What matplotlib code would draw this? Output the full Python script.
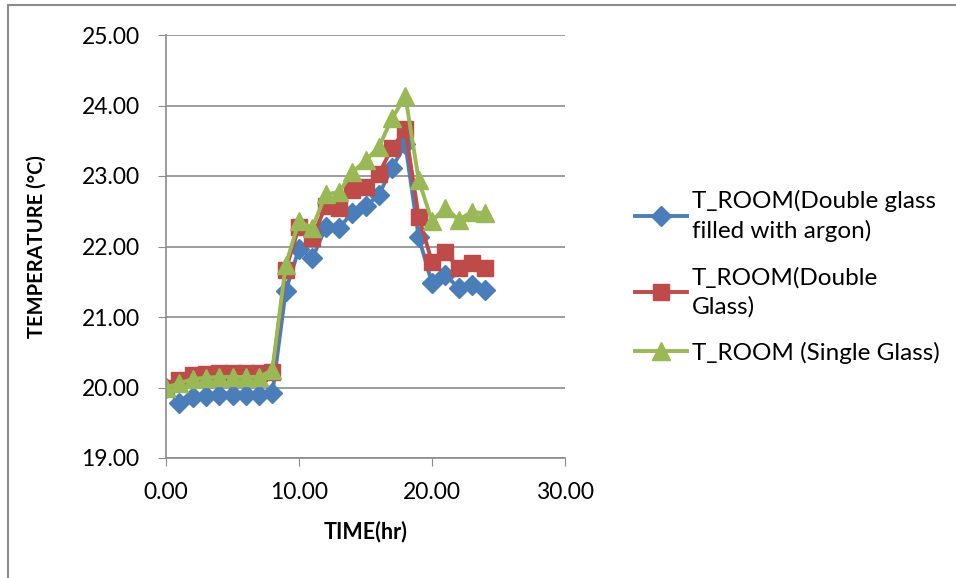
import numpy as np
from matplotlib import pyplot as plt
from matplotlib.patches import Rectangle

plt.rcParams['font.family'] = ['Lato', 'DejaVu Sans']

# time in hours
hours = list(range(25))

# room temperature, double glass filled with argon
t_argon = [20.00, 19.78, 19.86, 19.88, 19.90, 19.90, 19.90, 19.90, 19.92,
           21.37, 21.97, 21.83, 22.27, 22.26, 22.48, 22.57, 22.73, 23.12,
           23.45, 22.13, 21.48, 21.60, 21.41, 21.45, 21.38]

# room temperature, double glass
t_double = [20.00, 20.10, 20.18, 20.19, 20.20, 20.20, 20.20, 20.20, 20.22,
            21.67, 22.28, 22.12, 22.57, 22.55, 22.80, 22.85, 23.03, 23.40,
            23.66, 22.42, 21.78, 21.92, 21.69, 21.76, 21.69]

# room temperature, single glass
t_single = [20.00, 20.06, 20.12, 20.14, 20.15, 20.15, 20.15, 20.15, 20.25,
            21.74, 22.36, 22.26, 22.74, 22.77, 23.05, 23.22, 23.41, 23.82,
            24.13, 22.94, 22.36, 22.55, 22.38, 22.49, 22.47]

labels = ['T_ROOM(Double glass\nfilled with argon)',
          'T_ROOM(Double\nGlass)',
          'T_ROOM (Single Glass)']

fig = plt.figure(figsize=(9.56, 5.78), dpi=100)
ax = fig.add_axes([166 / 956, 1 - 458 / 578, (565 - 166) / 956, (458 - 35) / 578])

ax.plot(hours, t_argon, color='#4A7EBB', lw=2.8, marker='D', ms=10.5, label=labels[0])
ax.plot(hours, t_double, color='#BE4B48', lw=2.8, marker='s', ms=11.5, label=labels[1])
ax.plot(hours, t_single, color='#98B954', lw=2.8, marker='^', ms=13.5, label=labels[2])

ax.set_xlim(0, 30)
ax.set_ylim(19, 25)
ax.set_xticks(np.arange(0, 31, 10))
ax.set_yticks(np.arange(19, 25.1, 1))
ax.xaxis.set_major_formatter(lambda v, p: '%.2f' % v)
ax.yaxis.set_major_formatter(lambda v, p: '%.2f' % v)
ax.grid(axis='y', color='#8C8C8C', lw=1.2)
ax.set_axisbelow(True)
for s in ['top', 'right']:
    ax.spines[s].set_visible(False)
for s in ['left', 'bottom']:
    ax.spines[s].set_color('#8C8C8C')
    ax.spines[s].set_linewidth(1.2)
ax.tick_params(direction='out', length=6, color='#8C8C8C', labelsize=16.5)
ax.tick_params(axis='x', pad=11)
ax.tick_params(axis='y', pad=13)

ax.set_xlabel('TIME(hr)', fontsize=15.5, fontweight='bold', labelpad=13)
ax.set_ylabel('TEMPERATURE (°C)', fontsize=14.5, fontweight='bold', labelpad=25)

fig.legend(loc='center left', bbox_to_anchor=(635 / 956, 1 - 277 / 578),
           bbox_transform=fig.transFigure, frameon=False, borderpad=0,
           borderaxespad=0, handlelength=2.15, handletextpad=0.2,
           labelspacing=1.0, prop={'size': 17.5})
for t in fig.legends[0].get_texts():
    t.set_linespacing(1.45)

# outer chart border
fig.patches.append(Rectangle((8 / 956, -0.1), 1.1, 1 - 5 / 578 + 0.1,
                             transform=fig.transFigure, fill=False,
                             ec='#8C8C8C', lw=1.5))

fig.savefig('out.png', dpi=100)
